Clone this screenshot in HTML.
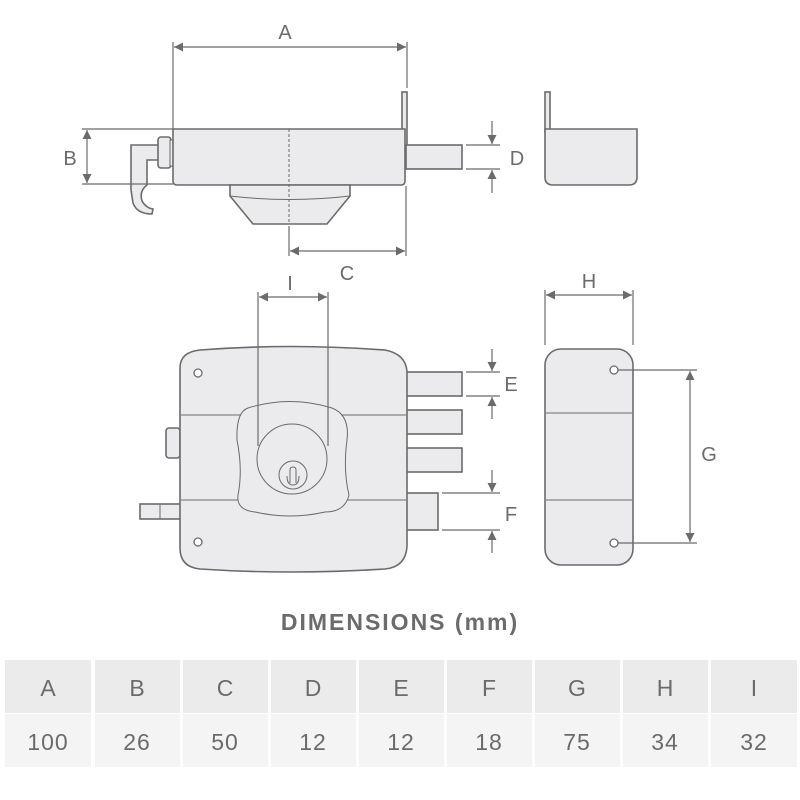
<!DOCTYPE html>
<html><head><meta charset="utf-8"><style>
html,body{margin:0;padding:0;background:#fff;width:800px;height:800px;overflow:hidden}
svg{display:block}
text{font-family:"Liberation Sans",sans-serif;fill:#6b6b6b}
</style></head><body>
<svg width="800" height="800" viewBox="0 0 800 800">
<defs>
<marker id="ar" viewBox="0 0 10 10" refX="10" refY="5" markerWidth="9" markerHeight="9" orient="auto-start-reverse" markerUnits="userSpaceOnUse"><path d="M0,0 L10,5 L0,10 z" fill="#6b6b6b"/></marker>
</defs>
<g stroke="#6b6b6b" fill="#ebeaec" stroke-width="1.6">
<path d="M131,145 H159 V160 H147 V185 Q139,191 142,201 Q146,208 153,209 L152,214 Q137,214 133,203 L131,190 Z"/>
<rect x="158" y="137" width="13" height="31" rx="3"/>
<rect x="170" y="140" width="3" height="26" stroke-width="1"/>
<rect x="402" y="92" width="5" height="60"/>
<path d="M173,129 H405 V181 Q405,185 401,185 H177 Q173,185 173,181 Z"/>
<rect x="406" y="145" width="56" height="24"/>
<path d="M230,185 H350 V196 L327,224 H253 L230,196 Z"/>
<path d="M230,196 Q290,203 350,196" fill="none" stroke-width="1"/>
<line x1="289" y1="129" x2="289" y2="224" stroke-dasharray="3,2" stroke-width="1"/>
<rect x="545" y="92" width="5" height="40"/>
<path d="M545,129 H637 V177 Q637,185 629,185 H553 Q545,185 545,177 Z"/>
<rect x="140" y="504" width="42" height="15"/>
<line x1="160" y1="504" x2="160" y2="519" stroke-width="1"/>
<rect x="166" y="428" width="14" height="30" rx="3"/>
<rect x="406" y="372" width="56" height="24"/>
<rect x="406" y="410" width="56" height="24"/>
<rect x="406" y="448" width="56" height="24"/>
<rect x="406" y="493" width="32" height="37"/>
<path d="M180,368 Q180,352 200,350 Q290,343 385,350 Q406,354 407,372 V546 Q406,567 385,569 Q290,575 200,569 Q180,567 180,548 Z"/>
<line x1="181" y1="415" x2="406" y2="415" stroke-width="1"/>
<line x1="181" y1="500" x2="406" y2="500" stroke-width="1"/>
<path d="M248,408 Q290,395 332,408 Q350,415 347,440 Q343,470 349,495 Q345,512 325,512 Q290,520 255,512 Q236,510 238,495 Q243,470 237,440 Q236,412 248,408 Z" stroke-width="1"/>
<circle cx="292" cy="459" r="35" stroke-width="1"/>
<circle cx="293" cy="475" r="14" stroke-width="1"/>
<path d="M290,483 V470 Q290,467 293,467 Q296,467 296,470 V483 M287,476 Q287,485 293,485 Q299,485 299,476" fill="none" stroke-width="1"/>
<circle cx="198" cy="373" r="4" fill="#fff" stroke-width="1.3"/>
<circle cx="198" cy="542" r="4" fill="#fff" stroke-width="1.3"/>
<rect x="545" y="349" width="88" height="216" rx="16"/>
<line x1="546" y1="413" x2="632" y2="413" stroke-width="1"/>
<line x1="546" y1="500" x2="632" y2="500" stroke-width="1"/>
<circle cx="614" cy="370" r="4" fill="#fff" stroke-width="1.3"/>
<circle cx="614" cy="543" r="4" fill="#fff" stroke-width="1.3"/>
</g>
<g stroke="#6b6b6b" stroke-width="1.2" fill="none">
<line x1="173" y1="42" x2="173" y2="129"/><line x1="407" y1="42" x2="407" y2="88"/>
<line x1="174" y1="47" x2="406" y2="47" marker-start="url(#ar)" marker-end="url(#ar)"/>
<line x1="82" y1="129" x2="173" y2="129"/><line x1="82" y1="184" x2="173" y2="184"/>
<line x1="87" y1="130" x2="87" y2="183" marker-start="url(#ar)" marker-end="url(#ar)"/>
<line x1="289" y1="226" x2="289" y2="256"/><line x1="406" y1="186" x2="406" y2="256"/>
<line x1="290" y1="251" x2="405" y2="251" marker-start="url(#ar)" marker-end="url(#ar)"/>
<line x1="466" y1="145" x2="500" y2="145"/><line x1="466" y1="169" x2="500" y2="169"/>
<line x1="492" y1="121" x2="492" y2="144" marker-end="url(#ar)"/><line x1="492" y1="193" x2="492" y2="170" marker-end="url(#ar)"/>
<line x1="258" y1="292" x2="258" y2="446"/><line x1="328" y1="292" x2="328" y2="446"/>
<line x1="259" y1="297" x2="327" y2="297" marker-start="url(#ar)" marker-end="url(#ar)"/>
<line x1="466" y1="372" x2="500" y2="372"/><line x1="466" y1="396" x2="500" y2="396"/>
<line x1="492" y1="349" x2="492" y2="371" marker-end="url(#ar)"/><line x1="492" y1="419" x2="492" y2="397" marker-end="url(#ar)"/>
<line x1="442" y1="493" x2="500" y2="493"/><line x1="442" y1="530" x2="500" y2="530"/>
<line x1="492" y1="470" x2="492" y2="492" marker-end="url(#ar)"/><line x1="492" y1="553" x2="492" y2="531" marker-end="url(#ar)"/>
<line x1="545" y1="290" x2="545" y2="345"/><line x1="633" y1="290" x2="633" y2="345"/>
<line x1="546" y1="295" x2="632" y2="295" marker-start="url(#ar)" marker-end="url(#ar)"/>
<line x1="618" y1="370" x2="697" y2="370"/><line x1="618" y1="543" x2="697" y2="543"/>
<line x1="690" y1="371" x2="690" y2="542" marker-start="url(#ar)" marker-end="url(#ar)"/>
</g>
<g font-size="20" text-anchor="middle">
<text x="285" y="39">A</text>
<text x="70" y="165">B</text>
<text x="347" y="280">C</text>
<text x="517" y="165">D</text>
<text x="290" y="290">I</text>
<text x="511" y="391">E</text>
<text x="511" y="521">F</text>
<text x="589" y="288">H</text>
<text x="709" y="461">G</text>
</g>
<text x="400" y="630" font-size="23" font-weight="bold" text-anchor="middle" letter-spacing="2">DIMENSIONS (mm)</text>
<g>
<rect x="5" y="660" width="86" height="53" fill="#ebebeb"/><rect x="5" y="714" width="86" height="53" fill="#f5f4f5"/>
<rect x="95" y="660" width="85" height="53" fill="#ebebeb"/><rect x="95" y="714" width="85" height="53" fill="#f5f4f5"/>
<rect x="183" y="660" width="85" height="53" fill="#ebebeb"/><rect x="183" y="714" width="85" height="53" fill="#f5f4f5"/>
<rect x="271" y="660" width="85" height="53" fill="#ebebeb"/><rect x="271" y="714" width="85" height="53" fill="#f5f4f5"/>
<rect x="359" y="660" width="85" height="53" fill="#ebebeb"/><rect x="359" y="714" width="85" height="53" fill="#f5f4f5"/>
<rect x="447" y="660" width="85" height="53" fill="#ebebeb"/><rect x="447" y="714" width="85" height="53" fill="#f5f4f5"/>
<rect x="535" y="660" width="85" height="53" fill="#ebebeb"/><rect x="535" y="714" width="85" height="53" fill="#f5f4f5"/>
<rect x="623" y="660" width="85" height="53" fill="#ebebeb"/><rect x="623" y="714" width="85" height="53" fill="#f5f4f5"/>
<rect x="711" y="660" width="86" height="53" fill="#ebebeb"/><rect x="711" y="714" width="86" height="53" fill="#f5f4f5"/>
</g>
<g font-size="23" text-anchor="middle">
<text x="48" y="696">A</text><text x="137" y="696">B</text><text x="225" y="696">C</text><text x="313" y="696">D</text><text x="401" y="696">E</text><text x="489" y="696">F</text><text x="577" y="696">G</text><text x="665" y="696">H</text><text x="754" y="696">I</text>
<text x="48" y="750" letter-spacing="1">100</text><text x="137" y="750" letter-spacing="1">26</text><text x="225" y="750" letter-spacing="1">50</text><text x="313" y="750" letter-spacing="1">12</text><text x="401" y="750" letter-spacing="1">12</text><text x="489" y="750" letter-spacing="1">18</text><text x="577" y="750" letter-spacing="1">75</text><text x="665" y="750" letter-spacing="1">34</text><text x="754" y="750" letter-spacing="1">32</text>
</g>
</svg>
</body></html>
